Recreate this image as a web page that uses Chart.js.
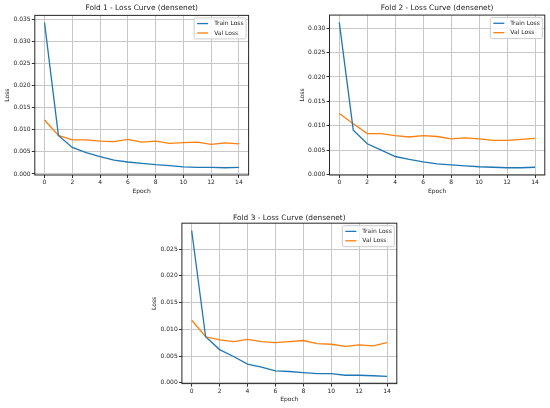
<!DOCTYPE html>
<html>
<head>
<meta charset="utf-8">
<script src="https://cdn.jsdelivr.net/npm/chart.js@4.4.1/dist/chart.umd.min.js"></script>
<style>
  html, body { margin: 0; padding: 0; background: #fff; }
  body { width: 550px; height: 408px; position: relative; overflow: hidden; }
  .panel { position: absolute; }
  .panel canvas { display: block; }
</style>
</head>
<body>
<div class="panel" style="left:0px;top:0px"><canvas id="c1" width="262" height="200"></canvas></div>
<div class="panel" style="left:295px;top:0px"><canvas id="c2" width="255" height="200"></canvas></div>
<div class="panel" style="left:147px;top:208px"><canvas id="c3" width="265" height="200"></canvas></div>
<script>
const epochs = [0, 1, 2, 3, 4, 5, 6, 7, 8, 9, 10, 11, 12, 13, 14];
const xTicks = [0, 2, 4, 6, 8, 10, 12, 14];

const fold1Train = [0.0342, 0.0087, 0.0060, 0.0048, 0.0039, 0.0031, 0.0027, 0.0024, 0.0021, 0.0019, 0.0016, 0.0015, 0.0015, 0.0014, 0.0015];
const fold1Val   = [0.0122, 0.0087, 0.0077, 0.0077, 0.0074, 0.0073, 0.0078, 0.0072, 0.0074, 0.0069, 0.0071, 0.0072, 0.0067, 0.0070, 0.0068];
const fold1YTicks = [0.000, 0.005, 0.010, 0.015, 0.020, 0.025, 0.030, 0.035];

const fold2Train = [0.0312, 0.0091, 0.0063, 0.0050, 0.0037, 0.0031, 0.0026, 0.0022, 0.0020, 0.0018, 0.0016, 0.0015, 0.0014, 0.0014, 0.0015];
const fold2Val   = [0.0125, 0.0104, 0.0084, 0.0084, 0.0080, 0.0077, 0.0080, 0.0078, 0.0073, 0.0075, 0.0073, 0.0070, 0.0070, 0.0072, 0.0074];
const fold2YTicks = [0.000, 0.005, 0.010, 0.015, 0.020, 0.025, 0.030];

const fold3Train = [0.0285, 0.0086, 0.0062, 0.0049, 0.0035, 0.0029, 0.0022, 0.0021, 0.0019, 0.0017, 0.0017, 0.0014, 0.0014, 0.0013, 0.0012];
const fold3Val   = [0.0117, 0.0086, 0.0080, 0.0077, 0.0081, 0.0077, 0.0075, 0.0077, 0.0079, 0.0073, 0.0072, 0.0068, 0.0071, 0.0069, 0.0075];
const fold3YTicks = [0.000, 0.005, 0.010, 0.015, 0.020, 0.025];

const FUENTE = '"DejaVu Sans", "Liberation Sans", sans-serif';
const TEXTO = '#222';

// Marco completo (estilo matplotlib) + leyenda dentro del área, arriba a la derecha
const marcoLeyenda = {
  id: 'marcoLeyenda',
  afterDatasetsDraw(chart) {
    const {ctx, chartArea: a} = chart;
    ctx.save();
    ctx.strokeStyle = '#262626';
    ctx.lineWidth = 1;
    ctx.strokeRect(a.left, a.top, a.right - a.left, a.bottom - a.top);

    ctx.font = '6px ' + FUENTE;
    const sets = chart.data.datasets;
    const textW = Math.max(...sets.map(d => ctx.measureText(d.label).width));
    const w = 20 + textW + 2.5, h = 21;
    const x = a.right - 2.5 - w, y = a.top + 2.5;
    ctx.fillStyle = 'rgba(255,255,255,0.8)';
    ctx.strokeStyle = '#cccccc';
    ctx.beginPath();
    ctx.roundRect(x, y, w, h, 1.5);
    ctx.fill();
    ctx.stroke();
    sets.forEach((d, i) => {
      const yy = y + 5.7 + i * 9.4;
      ctx.strokeStyle = d.borderColor;
      ctx.lineWidth = 1.3;
      ctx.beginPath();
      ctx.moveTo(x + 3, yy);
      ctx.lineTo(x + 14, yy);
      ctx.stroke();
      ctx.fillStyle = TEXTO;
      ctx.textBaseline = 'middle';
      ctx.textAlign = 'left';
      ctx.fillText(d.label, x + 20, yy);
    });
    ctx.restore();
  }
};

function puntos(valores) {
  return valores.map((v, i) => ({x: epochs[i], y: v}));
}

function crearGrafico(id, cfg) {
  const todos = cfg.train.concat(cfg.val);
  const lo = Math.min(...todos), hi = Math.max(...todos);
  const margen = (hi - lo) * 0.05;
  const grilla = { color: '#c8c8c8', lineWidth: 1, tickLength: 3, tickColor: '#333', tickWidth: 1 };
  const fuenteTicks = { family: FUENTE, size: 6 };

  return new Chart(document.getElementById(id), {
    type: 'line',
    data: {
      datasets: [
        { label: 'Train Loss', data: puntos(cfg.train), borderColor: '#1f77b4', borderWidth: 1.3, pointRadius: 0, tension: 0, fill: false },
        { label: 'Val Loss', data: puntos(cfg.val), borderColor: '#ff7f0e', borderWidth: 1.3, pointRadius: 0, tension: 0, fill: false }
      ]
    },
    options: {
      responsive: false,
      animation: false,
      layout: { padding: { left: 0, right: cfg.padDer, top: 0, bottom: 0 } },
      plugins: {
        legend: { display: false },
        tooltip: { enabled: false },
        title: {
          display: true,
          text: cfg.titulo,
          fullSize: false,
          color: TEXTO,
          font: { family: FUENTE, size: 7.4, weight: 'normal' },
          padding: { top: cfg.tituloArriba, bottom: cfg.tituloAbajo }
        }
      },
      scales: {
        x: {
          type: 'linear',
          min: -0.7,
          max: 14.7,
          afterBuildTicks: s => { s.ticks = xTicks.map(v => ({value: v})); },
          afterFit: s => { s.height = cfg.altoX; },
          ticks: { color: TEXTO, font: fuenteTicks, padding: 1, maxRotation: 0, autoSkip: false, callback: v => String(v) },
          grid: grilla,
          border: { display: false },
          title: { display: true, text: 'Epoch', color: TEXTO, font: fuenteTicks, padding: { top: 0, bottom: 5.4 } }
        },
        y: {
          min: lo - margen,
          max: hi + margen,
          afterBuildTicks: s => { s.ticks = cfg.yTicks.map(v => ({value: v})); },
          afterFit: s => { s.width = cfg.anchoY; },
          ticks: { color: TEXTO, font: fuenteTicks, padding: 1.2, autoSkip: false, callback: v => Number(v).toFixed(3) },
          grid: grilla,
          border: { display: false },
          title: { display: true, text: 'Loss', color: TEXTO, font: fuenteTicks, padding: { top: 3.7, bottom: 0 } }
        }
      }
    },
    plugins: [marcoLeyenda]
  });
}

crearGrafico('c1', {
  titulo: 'Fold 1 - Loss Curve (densenet)',
  train: fold1Train, val: fold1Val, yTicks: fold1YTicks,
  anchoY: 34.8, altoX: 25, padDer: 13.4, tituloArriba: 3.9, tituloAbajo: 2.6
});
crearGrafico('c2', {
  titulo: 'Fold 2 - Loss Curve (densenet)',
  train: fold2Train, val: fold2Val, yTicks: fold2YTicks,
  anchoY: 34.5, altoX: 25, padDer: 5.2, tituloArriba: 3.9, tituloAbajo: 2.3
});
crearGrafico('c3', {
  titulo: 'Fold 3 - Loss Curve (densenet)',
  train: fold3Train, val: fold3Val, yTicks: fold3YTicks,
  anchoY: 34.9, altoX: 24.4, padDer: 15.2, tituloArriba: 5.3, tituloAbajo: 1.0
});
</script>
</body>
</html>
